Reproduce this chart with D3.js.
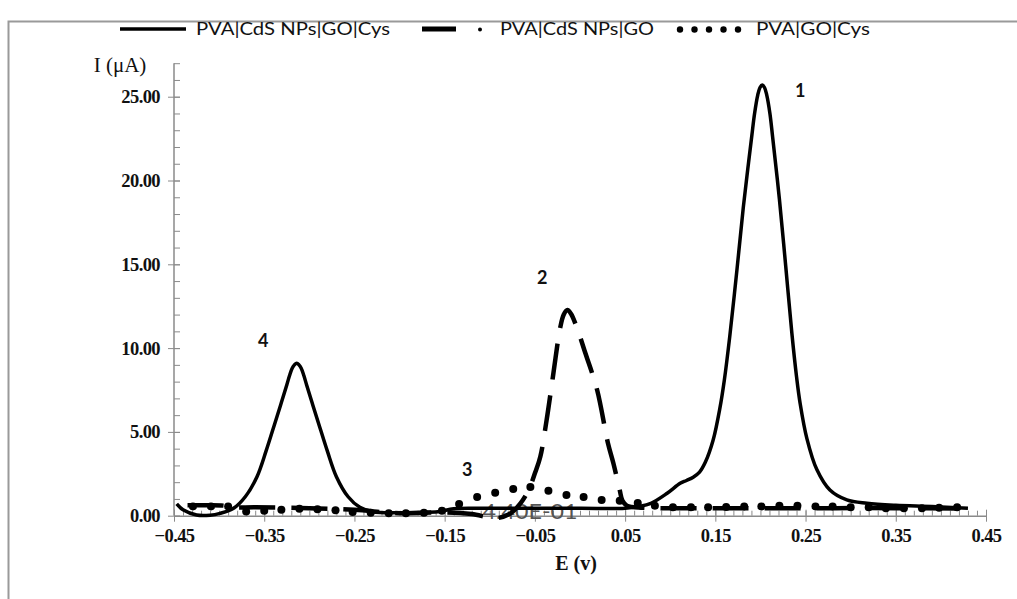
<!DOCTYPE html>
<html>
<head>
<meta charset="utf-8">
<script src="https://cdn.jsdelivr.net/npm/d3@7"></script>
<style>
  html, body { margin: 0; padding: 0; background: #fff; }
  svg { display: block; }
</style>
</head>
<body>
<svg id="chart" width="1017" height="599"></svg>
<script>
// ---------- DATA ----------
const seriesNames = ["PVA|CdS NPs|GO|Cys", "PVA|CdS NPs|GO", "PVA|GO|Cys"];

// Solid curve (peaks 1 and 4)
const solidE = [-0.447,-0.44,-0.425,-0.41,-0.399,-0.384,-0.371,-0.358,-0.348,-0.338,-0.331,-0.325,-0.322,-0.319,-0.3165,-0.314,-0.3115,-0.309,-0.306,-0.303,-0.297,-0.29,-0.28,-0.27,-0.257,-0.244,-0.23,-0.2,-0.17,-0.155,-0.14,-0.1,0.0,0.05,0.065,0.0786,0.0966,0.111,0.118,0.1255,0.1325,0.139,0.1475,0.155,0.16,0.166,0.174,0.181,0.186,0.1905,0.1935,0.197,0.1995,0.202,0.2045,0.207,0.2105,0.2135,0.221,0.228,0.2348,0.24,0.244,0.2515,0.2625,0.277,0.2958,0.318,0.35,0.39,0.43];
const solidI = [0.7,0.35,0.04,0.03,0.14,0.44,1.13,2.33,3.85,5.55,6.75,7.8,8.35,8.8,9.0,9.09,9.0,8.8,8.35,7.8,6.75,5.55,3.85,2.33,1.13,0.5,0.24,0.18,0.2,0.25,0.42,0.44,0.44,0.45,0.55,0.74,1.34,1.93,2.1,2.3,2.6,3.2,4.5,6.4,8.1,10.7,14.7,18.4,20.7,22.7,24.0,25.1,25.55,25.7,25.55,25.1,24.0,22.6,18.9,14.9,10.9,8.3,6.7,4.6,2.75,1.53,0.94,0.74,0.62,0.55,0.45];

// Dashed curve (peak 2)
const dashedE = [-0.435,-0.415,-0.395,-0.385,-0.36,-0.30,-0.25,-0.20,-0.15,-0.12,-0.093,-0.077,-0.066,-0.057,-0.05,-0.044,-0.037,-0.03,-0.022,-0.018,-0.014,-0.01,-0.004,0.006,0.019,0.031,0.037,0.044,0.047,0.052,0.07,0.15,0.25,0.35,0.43];
const dashedI = [0.62,0.62,0.6,0.5,0.5,0.45,0.35,0.15,0.2,0.1,-0.15,0.14,0.74,1.53,2.53,3.52,5.71,8.3,11.2,12.0,12.27,12.05,11.3,9.69,7.5,4.32,3.13,1.53,0.9,0.6,0.48,0.45,0.45,0.45,0.42];

// Dotted series (peak 3)
const dotE = [-0.429,-0.409,-0.390,-0.370,-0.350,-0.331,-0.311,-0.291,-0.271,-0.252,-0.232,-0.212,-0.193,-0.173,-0.153,-0.134,-0.114,-0.094,-0.074,-0.055,-0.035,-0.015,0.004,0.024,0.044,0.064,0.083,0.103,0.123,0.142,0.162,0.182,0.201,0.221,0.241,0.261,0.280,0.300,0.320,0.339,0.359,0.379,0.398,0.418];
const dotI = [0.55,0.55,0.55,0.25,0.3,0.35,0.42,0.38,0.32,0.22,0.18,0.15,0.15,0.17,0.3,0.7,1.12,1.37,1.59,1.71,1.49,1.24,1.12,0.94,0.89,0.76,0.6,0.5,0.5,0.5,0.52,0.55,0.55,0.6,0.6,0.55,0.55,0.5,0.5,0.45,0.45,0.45,0.48,0.5];

const xTickLabels = [-0.45,-0.35,-0.25,-0.15,-0.05,0.05,0.15,0.25,0.35,0.45];
const yTickLabels = [0,5,10,15,20,25];

const peakLabels = ["1","2","3","4"];
const peakLabelE = [0.244,-0.042,-0.125,-0.351];
const peakLabelI = [25.0,13.8,2.35,10.05];

const dataLabelText = "4.40E-01";

// ---------- LAYOUT ----------
const svg = d3.select("#chart");
const x = d3.scaleLinear().domain([-0.45, 0.45]).range([174, 986]);
const y = d3.scaleLinear().domain([0, 27]).range([515.7, 63.2]);
const axisColor = "#8a8a8a";
const serif = "'Liberation Serif', 'Times New Roman', serif";
const sans = "Lato, 'Liberation Sans', sans-serif";

// Outer frame (partially visible)
svg.append("path")
  .attr("d", "M8.5,599 L8.5,21.5 L1017,21.5")
  .attr("fill", "none").attr("stroke", "#9a9a9a").attr("stroke-width", 2);

// ---------- AXES ----------
const xMinor = d3.range(-45, 46).map(v => v / 100);
const yMinor = d3.range(0, 28);

svg.append("g").attr("transform", `translate(0,${y(0)})`)
  .call(d3.axisTop(x).tickValues(xMinor).tickSize(5).tickFormat(""))
  .call(g => g.select(".domain").remove())
  .call(g => g.selectAll("line").attr("stroke", axisColor));
const gx = svg.append("g").attr("transform", `translate(0,${y(0)})`)
  .call(d3.axisBottom(x).tickValues(xTickLabels).tickSize(6).tickSizeOuter(0).tickPadding(7).tickFormat(d3.format(".2f")));
gx.select(".domain").attr("stroke", axisColor).attr("stroke-width", 1.5);
gx.selectAll(".tick line").attr("stroke", axisColor).attr("y1", -6);
gx.selectAll("text").attr("font-family", serif).attr("font-weight", "bold")
  .attr("font-size", 18.5).attr("fill", "#111").attr("letter-spacing", -0.6);

svg.append("g").attr("transform", `translate(${x(-0.45)},0)`)
  .call(d3.axisRight(y).tickValues(yMinor).tickSize(6).tickFormat(""))
  .call(g => g.select(".domain").remove())
  .call(g => g.selectAll("line").attr("stroke", axisColor));
const gy = svg.append("g").attr("transform", `translate(${x(-0.45)},0)`)
  .call(d3.axisLeft(y).tickValues(yTickLabels).tickSize(6).tickSizeOuter(0).tickPadding(8).tickFormat(d3.format(".2f")));
gy.select(".domain").attr("stroke", axisColor).attr("stroke-width", 1.5)
  .attr("d", `M0,${y(0)}V${y(27)}`);
gy.selectAll(".tick line").attr("stroke", axisColor).attr("x1", 6);
gy.selectAll("text").attr("font-family", serif).attr("font-weight", "bold")
  .attr("font-size", 18.5).attr("fill", "#111").attr("letter-spacing", -0.6);

// Axis titles
svg.append("text").attr("x", 120).attr("y", 72).attr("text-anchor", "middle")
  .attr("font-family", serif).attr("font-size", 21).attr("fill", "#111").text("I (μA)");
svg.append("text").attr("x", 576).attr("y", 570).attr("text-anchor", "middle")
  .attr("font-family", serif).attr("font-weight", "bold").attr("font-size", 20).attr("fill", "#111").text("E (v)");

// ---------- SERIES ----------
const solid = solidE.map((e, i) => [e, solidI[i]]);
const dashed = dashedE.map((e, i) => [e, dashedI[i]]);
const dots = dotE.map((e, i) => [e, dotI[i]]);

const line = d3.line().x(d => x(d[0])).y(d => y(d[1])).curve(d3.curveCatmullRom.alpha(0.5));

// Data label (behind curves)
svg.append("text").attr("x", 530).attr("y", 519).attr("text-anchor", "middle")
  .attr("font-family", sans).attr("font-size", 21).attr("fill", "#555")
  .attr("textLength", 95).attr("lengthAdjust", "spacingAndGlyphs").text(dataLabelText);

svg.append("path").datum(dashed)
  .attr("d", line).attr("fill", "none").attr("stroke", "#000")
  .attr("stroke-width", 4.5).attr("stroke-dasharray", "36,16");

svg.append("path").datum(solid)
  .attr("d", line).attr("fill", "none").attr("stroke", "#000")
  .attr("stroke-width", 3.5).attr("stroke-linejoin", "round");

svg.append("g").selectAll("circle").data(dots).join("circle")
  .attr("cx", d => x(d[0])).attr("cy", d => y(d[1])).attr("r", 4).attr("fill", "#000");

// Peak labels
svg.append("g").selectAll("text").data(peakLabels).join("text")
  .attr("x", (d, i) => x(peakLabelE[i])).attr("y", (d, i) => y(peakLabelI[i]))
  .attr("text-anchor", "middle").attr("font-family", sans).attr("font-weight", "bold")
  .attr("font-size", 18).attr("fill", "#111").text(d => d);

// ---------- LEGEND ----------
const lg = svg.append("g");
lg.append("line").attr("x1", 120).attr("x2", 186).attr("y1", 29).attr("y2", 29)
  .attr("stroke", "#000").attr("stroke-width", 3.5);
lg.append("text").attr("x", 196).attr("y", 35).attr("font-family", sans).attr("font-size", 18)
  .attr("fill", "#111").attr("textLength", 194).attr("lengthAdjust", "spacingAndGlyphs").text(seriesNames[0]);

lg.append("line").attr("x1", 422).attr("x2", 456).attr("y1", 29).attr("y2", 29)
  .attr("stroke", "#000").attr("stroke-width", 5);
lg.append("circle").attr("cx", 480).attr("cy", 29.5).attr("r", 2).attr("fill", "#000");
lg.append("text").attr("x", 500).attr("y", 35).attr("font-family", sans).attr("font-size", 18)
  .attr("fill", "#111").attr("textLength", 154).attr("lengthAdjust", "spacingAndGlyphs").text(seriesNames[1]);

lg.selectAll("circle.ld").data(d3.range(5)).join("circle").attr("class", "ld")
  .attr("cx", d => 680 + d * 14.5).attr("cy", 29.5).attr("r", 3.2).attr("fill", "#000");
lg.append("text").attr("x", 756).attr("y", 35).attr("font-family", sans).attr("font-size", 18)
  .attr("fill", "#111").attr("textLength", 114).attr("lengthAdjust", "spacingAndGlyphs").text(seriesNames[2]);
</script>
</body>
</html>
